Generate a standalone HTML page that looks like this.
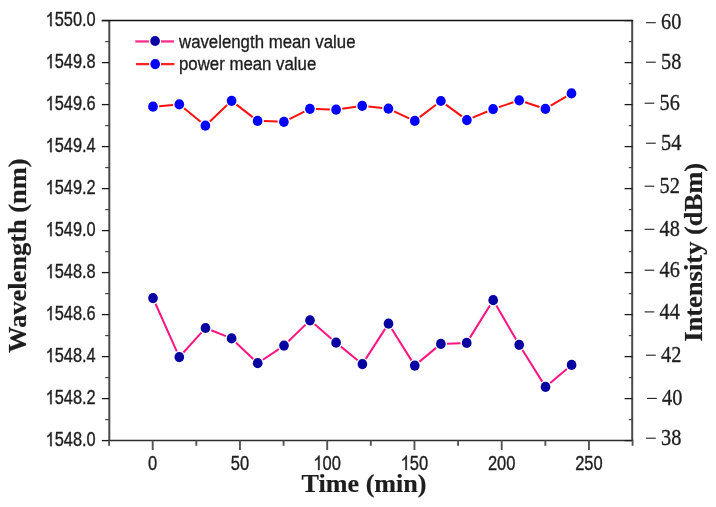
<!DOCTYPE html>
<html><head><meta charset="utf-8"><style>
html,body{margin:0;padding:0;background:#fff;width:716px;height:507px;overflow:hidden;}
svg{display:block;filter:blur(0.35px);}

</style></head><body>
<svg width="716" height="507" viewBox="0 0 716 507">
<rect width="716" height="507" fill="#fff"/>
<g stroke="#383838" fill="none">
<line x1="109.3" y1="20.6" x2="109.3" y2="440.5" stroke="#4a4a4a" stroke-width="2"/>
<line x1="632.1999999999999" y1="20.6" x2="632.1999999999999" y2="440.5" stroke="#4a4a4a" stroke-width="2"/>
<line x1="101.8" y1="20.5" x2="633.1999999999999" y2="20.5" stroke="#111" stroke-width="1.3"/>
<line x1="108.1" y1="440.5" x2="633.1999999999999" y2="440.5" stroke="#2e2e2e" stroke-width="1.6"/>
<line x1="101.8" y1="20.60" x2="109.1" y2="20.60" stroke="#1a1a1a" stroke-width="1.3"/>
<line x1="624.6" y1="20.60" x2="632.4" y2="20.60" stroke="#1a1a1a" stroke-width="1.3"/>
<line x1="101.8" y1="62.60" x2="109.1" y2="62.60" stroke="#1a1a1a" stroke-width="1.3"/>
<line x1="624.6" y1="62.60" x2="632.4" y2="62.60" stroke="#1a1a1a" stroke-width="1.3"/>
<line x1="101.8" y1="104.60" x2="109.1" y2="104.60" stroke="#1a1a1a" stroke-width="1.3"/>
<line x1="624.6" y1="104.60" x2="632.4" y2="104.60" stroke="#1a1a1a" stroke-width="1.3"/>
<line x1="101.8" y1="146.60" x2="109.1" y2="146.60" stroke="#1a1a1a" stroke-width="1.3"/>
<line x1="624.6" y1="146.60" x2="632.4" y2="146.60" stroke="#1a1a1a" stroke-width="1.3"/>
<line x1="101.8" y1="188.60" x2="109.1" y2="188.60" stroke="#1a1a1a" stroke-width="1.3"/>
<line x1="624.6" y1="188.60" x2="632.4" y2="188.60" stroke="#1a1a1a" stroke-width="1.3"/>
<line x1="101.8" y1="230.60" x2="109.1" y2="230.60" stroke="#1a1a1a" stroke-width="1.3"/>
<line x1="624.6" y1="230.60" x2="632.4" y2="230.60" stroke="#1a1a1a" stroke-width="1.3"/>
<line x1="101.8" y1="272.60" x2="109.1" y2="272.60" stroke="#1a1a1a" stroke-width="1.3"/>
<line x1="624.6" y1="272.60" x2="632.4" y2="272.60" stroke="#1a1a1a" stroke-width="1.3"/>
<line x1="101.8" y1="314.60" x2="109.1" y2="314.60" stroke="#1a1a1a" stroke-width="1.3"/>
<line x1="624.6" y1="314.60" x2="632.4" y2="314.60" stroke="#1a1a1a" stroke-width="1.3"/>
<line x1="101.8" y1="356.60" x2="109.1" y2="356.60" stroke="#1a1a1a" stroke-width="1.3"/>
<line x1="624.6" y1="356.60" x2="632.4" y2="356.60" stroke="#1a1a1a" stroke-width="1.3"/>
<line x1="101.8" y1="398.60" x2="109.1" y2="398.60" stroke="#1a1a1a" stroke-width="1.3"/>
<line x1="624.6" y1="398.60" x2="632.4" y2="398.60" stroke="#1a1a1a" stroke-width="1.3"/>
<line x1="101.8" y1="440.60" x2="109.1" y2="440.60" stroke="#1a1a1a" stroke-width="1.3"/>
<line x1="624.6" y1="440.60" x2="632.4" y2="440.60" stroke="#1a1a1a" stroke-width="1.3"/>
<line x1="105.2" y1="41.60" x2="109.1" y2="41.60" stroke="#444" stroke-width="1.2"/>
<line x1="628.8" y1="41.60" x2="632.4" y2="41.60" stroke="#444" stroke-width="1.2"/>
<line x1="105.2" y1="83.60" x2="109.1" y2="83.60" stroke="#444" stroke-width="1.2"/>
<line x1="628.8" y1="83.60" x2="632.4" y2="83.60" stroke="#444" stroke-width="1.2"/>
<line x1="105.2" y1="125.60" x2="109.1" y2="125.60" stroke="#444" stroke-width="1.2"/>
<line x1="628.8" y1="125.60" x2="632.4" y2="125.60" stroke="#444" stroke-width="1.2"/>
<line x1="105.2" y1="167.60" x2="109.1" y2="167.60" stroke="#444" stroke-width="1.2"/>
<line x1="628.8" y1="167.60" x2="632.4" y2="167.60" stroke="#444" stroke-width="1.2"/>
<line x1="105.2" y1="209.60" x2="109.1" y2="209.60" stroke="#444" stroke-width="1.2"/>
<line x1="628.8" y1="209.60" x2="632.4" y2="209.60" stroke="#444" stroke-width="1.2"/>
<line x1="105.2" y1="251.60" x2="109.1" y2="251.60" stroke="#444" stroke-width="1.2"/>
<line x1="628.8" y1="251.60" x2="632.4" y2="251.60" stroke="#444" stroke-width="1.2"/>
<line x1="105.2" y1="293.60" x2="109.1" y2="293.60" stroke="#444" stroke-width="1.2"/>
<line x1="628.8" y1="293.60" x2="632.4" y2="293.60" stroke="#444" stroke-width="1.2"/>
<line x1="105.2" y1="335.60" x2="109.1" y2="335.60" stroke="#444" stroke-width="1.2"/>
<line x1="628.8" y1="335.60" x2="632.4" y2="335.60" stroke="#444" stroke-width="1.2"/>
<line x1="105.2" y1="377.60" x2="109.1" y2="377.60" stroke="#444" stroke-width="1.2"/>
<line x1="628.8" y1="377.60" x2="632.4" y2="377.60" stroke="#444" stroke-width="1.2"/>
<line x1="105.2" y1="419.60" x2="109.1" y2="419.60" stroke="#444" stroke-width="1.2"/>
<line x1="628.8" y1="419.60" x2="632.4" y2="419.60" stroke="#444" stroke-width="1.2"/>
<line x1="109.07" y1="440.5" x2="109.07" y2="445.80" stroke="#555" stroke-width="1.9"/>
<line x1="152.70" y1="440.5" x2="152.70" y2="450.00" stroke="#555" stroke-width="1.9"/>
<line x1="196.32" y1="440.5" x2="196.32" y2="445.80" stroke="#555" stroke-width="1.9"/>
<line x1="239.95" y1="440.5" x2="239.95" y2="450.00" stroke="#555" stroke-width="1.9"/>
<line x1="283.57" y1="440.5" x2="283.57" y2="445.80" stroke="#555" stroke-width="1.9"/>
<line x1="327.20" y1="440.5" x2="327.20" y2="450.00" stroke="#555" stroke-width="1.9"/>
<line x1="370.82" y1="440.5" x2="370.82" y2="445.80" stroke="#555" stroke-width="1.9"/>
<line x1="414.45" y1="440.5" x2="414.45" y2="450.00" stroke="#555" stroke-width="1.9"/>
<line x1="458.07" y1="440.5" x2="458.07" y2="445.80" stroke="#555" stroke-width="1.9"/>
<line x1="501.70" y1="440.5" x2="501.70" y2="450.00" stroke="#555" stroke-width="1.9"/>
<line x1="545.33" y1="440.5" x2="545.33" y2="445.80" stroke="#555" stroke-width="1.9"/>
<line x1="588.95" y1="440.5" x2="588.95" y2="450.00" stroke="#555" stroke-width="1.9"/>
<line x1="632.58" y1="440.5" x2="632.58" y2="445.80" stroke="#555" stroke-width="1.9"/>
<line x1="646.10" y1="22.70" x2="655.80" y2="22.70" stroke="#1e1e1e" stroke-width="1.1"/>
<line x1="646.10" y1="62.20" x2="655.80" y2="62.20" stroke="#1e1e1e" stroke-width="1.1"/>
<line x1="644.60" y1="103.20" x2="654.30" y2="103.20" stroke="#1e1e1e" stroke-width="1.1"/>
<line x1="646.10" y1="143.20" x2="655.80" y2="143.20" stroke="#1e1e1e" stroke-width="1.1"/>
<line x1="644.60" y1="186.20" x2="654.30" y2="186.20" stroke="#1e1e1e" stroke-width="1.1"/>
<line x1="644.60" y1="229.30" x2="654.30" y2="229.30" stroke="#1e1e1e" stroke-width="1.1"/>
<line x1="644.60" y1="270.20" x2="654.30" y2="270.20" stroke="#1e1e1e" stroke-width="1.1"/>
<line x1="644.60" y1="311.90" x2="654.30" y2="311.90" stroke="#1e1e1e" stroke-width="1.1"/>
<line x1="646.10" y1="355.20" x2="655.80" y2="355.20" stroke="#1e1e1e" stroke-width="1.1"/>
<line x1="647.10" y1="398.40" x2="656.80" y2="398.40" stroke="#1e1e1e" stroke-width="1.1"/>
<line x1="646.10" y1="438.20" x2="655.80" y2="438.20" stroke="#1e1e1e" stroke-width="1.1"/>
</g>
<path d="M155.52 303.76L176.78 351.44M183.45 352.49L201.35 332.61M211.26 330.30L225.84 336.10M236.09 342.67L253.21 358.93M262.85 359.75L278.85 349.05M288.44 341.28L305.56 324.62M314.70 324.34L331.40 338.66M340.91 346.61L357.59 360.19M365.76 358.89L385.14 328.91M391.79 328.95L411.46 360.35M419.52 361.64L436.08 347.86M447.05 343.66L460.50 343.14M469.97 337.63L489.93 305.47M496.32 305.56L516.08 339.44M522.48 350.06L542.22 381.64M550.24 382.90L566.86 368.90" stroke="#ff1483" stroke-width="2.0" fill="none"/>
<path d="M159.18 106.16L173.12 104.94M184.10 108.32L200.60 121.78M209.89 121.43L227.11 105.07M236.51 104.59L252.69 117.11M263.80 121.11L277.70 121.59M289.45 119.03L304.35 111.57M316.10 109.01L329.90 109.49M342.24 108.81L356.06 106.79M368.36 106.56L382.24 108.04M394.03 111.30L409.17 118.30M419.73 117.14L435.97 104.76M445.90 104.67L461.90 116.43M472.62 117.70L487.38 111.50M498.98 107.12L513.32 102.28M525.09 102.23L539.51 106.97M550.73 105.73L566.17 96.57" stroke="#ff1010" stroke-width="2.0" fill="none"/>
<ellipse cx="153.0" cy="298.1" rx="4.85" ry="5.1" fill="#0800a0"/>
<ellipse cx="179.3" cy="357.1" rx="4.85" ry="5.1" fill="#0800a0"/>
<ellipse cx="205.5" cy="328.0" rx="4.85" ry="5.1" fill="#0800a0"/>
<ellipse cx="231.6" cy="338.4" rx="4.85" ry="5.1" fill="#0800a0"/>
<ellipse cx="257.7" cy="363.2" rx="4.85" ry="5.1" fill="#0800a0"/>
<ellipse cx="284.0" cy="345.6" rx="4.85" ry="5.1" fill="#0800a0"/>
<ellipse cx="310.0" cy="320.3" rx="4.85" ry="5.1" fill="#0800a0"/>
<ellipse cx="336.1" cy="342.7" rx="4.85" ry="5.1" fill="#0800a0"/>
<ellipse cx="362.4" cy="364.1" rx="4.85" ry="5.1" fill="#0800a0"/>
<ellipse cx="388.5" cy="323.7" rx="4.85" ry="5.1" fill="#0800a0"/>
<ellipse cx="414.75" cy="365.6" rx="4.85" ry="5.1" fill="#0800a0"/>
<ellipse cx="440.85" cy="343.9" rx="4.85" ry="5.1" fill="#0800a0"/>
<ellipse cx="466.7" cy="342.9" rx="4.85" ry="5.1" fill="#0800a0"/>
<ellipse cx="493.2" cy="300.2" rx="4.85" ry="5.1" fill="#0800a0"/>
<ellipse cx="519.2" cy="344.8" rx="4.85" ry="5.1" fill="#0800a0"/>
<ellipse cx="545.5" cy="386.9" rx="4.85" ry="5.1" fill="#0800a0"/>
<ellipse cx="571.6" cy="364.9" rx="4.85" ry="5.1" fill="#0800a0"/>
<ellipse cx="153.0" cy="106.7" rx="4.85" ry="5.1" fill="#0000ff"/>
<ellipse cx="179.3" cy="104.4" rx="4.85" ry="5.1" fill="#0000ff"/>
<ellipse cx="205.4" cy="125.7" rx="4.85" ry="5.1" fill="#0000ff"/>
<ellipse cx="231.6" cy="100.8" rx="4.85" ry="5.1" fill="#0000ff"/>
<ellipse cx="257.6" cy="120.9" rx="4.85" ry="5.1" fill="#0000ff"/>
<ellipse cx="283.9" cy="121.8" rx="4.85" ry="5.1" fill="#0000ff"/>
<ellipse cx="309.9" cy="108.8" rx="4.85" ry="5.1" fill="#0000ff"/>
<ellipse cx="336.1" cy="109.7" rx="4.85" ry="5.1" fill="#0000ff"/>
<ellipse cx="362.2" cy="105.9" rx="4.85" ry="5.1" fill="#0000ff"/>
<ellipse cx="388.4" cy="108.7" rx="4.85" ry="5.1" fill="#0000ff"/>
<ellipse cx="414.8" cy="120.9" rx="4.85" ry="5.1" fill="#0000ff"/>
<ellipse cx="440.9" cy="101.0" rx="4.85" ry="5.1" fill="#0000ff"/>
<ellipse cx="466.9" cy="120.1" rx="4.85" ry="5.1" fill="#0000ff"/>
<ellipse cx="493.1" cy="109.1" rx="4.85" ry="5.1" fill="#0000ff"/>
<ellipse cx="519.2" cy="100.3" rx="4.85" ry="5.1" fill="#0000ff"/>
<ellipse cx="545.4" cy="108.9" rx="4.85" ry="5.1" fill="#0000ff"/>
<ellipse cx="571.5" cy="93.4" rx="4.85" ry="5.1" fill="#0000ff"/>
<line x1="135.3" y1="41.45" x2="148.9" y2="41.45" stroke="#ff2d8c" stroke-width="2.3"/>
<line x1="161" y1="41.45" x2="174" y2="41.45" stroke="#ff2d8c" stroke-width="2.3"/>
<ellipse cx="155.1" cy="41.0" rx="4.85" ry="5.1" fill="#0800a0"/>
<line x1="136" y1="64.1" x2="149.2" y2="64.1" stroke="#ff2323" stroke-width="2.3"/>
<line x1="161" y1="64.1" x2="174.4" y2="64.1" stroke="#ff2323" stroke-width="2.3"/>
<ellipse cx="155.2" cy="64.1" rx="4.85" ry="5.1" fill="#0000ff"/>
<path transform="translate(45.54,26.15) scale(0.008008,-0.009529)" d="M763 0H583V1147Q518 1085 412.5 1023T223 930V1104Q375 1175 489 1276T650 1472H763Z" fill="#1e1e1e" stroke="#1e1e1e" stroke-width="37.5"/>
<text transform="translate(54.66,26.15) scale(1.0,1.19)" style="font-family:'Liberation Sans',sans-serif" font-size="16.4" font-weight="normal" text-anchor="start" fill="#1e1e1e" stroke="#1e1e1e" stroke-width="0.3">550.0</text>
<path transform="translate(45.54,68.15) scale(0.008008,-0.009529)" d="M763 0H583V1147Q518 1085 412.5 1023T223 930V1104Q375 1175 489 1276T650 1472H763Z" fill="#1e1e1e" stroke="#1e1e1e" stroke-width="37.5"/>
<text transform="translate(54.66,68.15) scale(1.0,1.19)" style="font-family:'Liberation Sans',sans-serif" font-size="16.4" font-weight="normal" text-anchor="start" fill="#1e1e1e" stroke="#1e1e1e" stroke-width="0.3">549.8</text>
<path transform="translate(45.54,110.15) scale(0.008008,-0.009529)" d="M763 0H583V1147Q518 1085 412.5 1023T223 930V1104Q375 1175 489 1276T650 1472H763Z" fill="#1e1e1e" stroke="#1e1e1e" stroke-width="37.5"/>
<text transform="translate(54.66,110.15) scale(1.0,1.19)" style="font-family:'Liberation Sans',sans-serif" font-size="16.4" font-weight="normal" text-anchor="start" fill="#1e1e1e" stroke="#1e1e1e" stroke-width="0.3">549.6</text>
<path transform="translate(45.54,152.15) scale(0.008008,-0.009529)" d="M763 0H583V1147Q518 1085 412.5 1023T223 930V1104Q375 1175 489 1276T650 1472H763Z" fill="#1e1e1e" stroke="#1e1e1e" stroke-width="37.5"/>
<text transform="translate(54.66,152.15) scale(1.0,1.19)" style="font-family:'Liberation Sans',sans-serif" font-size="16.4" font-weight="normal" text-anchor="start" fill="#1e1e1e" stroke="#1e1e1e" stroke-width="0.3">549.4</text>
<path transform="translate(45.54,194.15) scale(0.008008,-0.009529)" d="M763 0H583V1147Q518 1085 412.5 1023T223 930V1104Q375 1175 489 1276T650 1472H763Z" fill="#1e1e1e" stroke="#1e1e1e" stroke-width="37.5"/>
<text transform="translate(54.66,194.15) scale(1.0,1.19)" style="font-family:'Liberation Sans',sans-serif" font-size="16.4" font-weight="normal" text-anchor="start" fill="#1e1e1e" stroke="#1e1e1e" stroke-width="0.3">549.2</text>
<path transform="translate(45.54,236.15) scale(0.008008,-0.009529)" d="M763 0H583V1147Q518 1085 412.5 1023T223 930V1104Q375 1175 489 1276T650 1472H763Z" fill="#1e1e1e" stroke="#1e1e1e" stroke-width="37.5"/>
<text transform="translate(54.66,236.15) scale(1.0,1.19)" style="font-family:'Liberation Sans',sans-serif" font-size="16.4" font-weight="normal" text-anchor="start" fill="#1e1e1e" stroke="#1e1e1e" stroke-width="0.3">549.0</text>
<path transform="translate(45.54,278.15) scale(0.008008,-0.009529)" d="M763 0H583V1147Q518 1085 412.5 1023T223 930V1104Q375 1175 489 1276T650 1472H763Z" fill="#1e1e1e" stroke="#1e1e1e" stroke-width="37.5"/>
<text transform="translate(54.66,278.15) scale(1.0,1.19)" style="font-family:'Liberation Sans',sans-serif" font-size="16.4" font-weight="normal" text-anchor="start" fill="#1e1e1e" stroke="#1e1e1e" stroke-width="0.3">548.8</text>
<path transform="translate(45.54,320.15) scale(0.008008,-0.009529)" d="M763 0H583V1147Q518 1085 412.5 1023T223 930V1104Q375 1175 489 1276T650 1472H763Z" fill="#1e1e1e" stroke="#1e1e1e" stroke-width="37.5"/>
<text transform="translate(54.66,320.15) scale(1.0,1.19)" style="font-family:'Liberation Sans',sans-serif" font-size="16.4" font-weight="normal" text-anchor="start" fill="#1e1e1e" stroke="#1e1e1e" stroke-width="0.3">548.6</text>
<path transform="translate(45.54,362.15) scale(0.008008,-0.009529)" d="M763 0H583V1147Q518 1085 412.5 1023T223 930V1104Q375 1175 489 1276T650 1472H763Z" fill="#1e1e1e" stroke="#1e1e1e" stroke-width="37.5"/>
<text transform="translate(54.66,362.15) scale(1.0,1.19)" style="font-family:'Liberation Sans',sans-serif" font-size="16.4" font-weight="normal" text-anchor="start" fill="#1e1e1e" stroke="#1e1e1e" stroke-width="0.3">548.4</text>
<path transform="translate(45.54,404.15) scale(0.008008,-0.009529)" d="M763 0H583V1147Q518 1085 412.5 1023T223 930V1104Q375 1175 489 1276T650 1472H763Z" fill="#1e1e1e" stroke="#1e1e1e" stroke-width="37.5"/>
<text transform="translate(54.66,404.15) scale(1.0,1.19)" style="font-family:'Liberation Sans',sans-serif" font-size="16.4" font-weight="normal" text-anchor="start" fill="#1e1e1e" stroke="#1e1e1e" stroke-width="0.3">548.2</text>
<path transform="translate(45.54,446.15) scale(0.008008,-0.009529)" d="M763 0H583V1147Q518 1085 412.5 1023T223 930V1104Q375 1175 489 1276T650 1472H763Z" fill="#1e1e1e" stroke="#1e1e1e" stroke-width="37.5"/>
<text transform="translate(54.66,446.15) scale(1.0,1.19)" style="font-family:'Liberation Sans',sans-serif" font-size="16.4" font-weight="normal" text-anchor="start" fill="#1e1e1e" stroke="#1e1e1e" stroke-width="0.3">548.0</text>
<text transform="translate(148.11,470.00) scale(1.0,1.22)" style="font-family:'Liberation Sans',sans-serif" font-size="16.5" font-weight="normal" text-anchor="start" fill="#1e1e1e" stroke="#1e1e1e" stroke-width="0.3">0</text>
<text transform="translate(230.77,470.00) scale(1.0,1.22)" style="font-family:'Liberation Sans',sans-serif" font-size="16.5" font-weight="normal" text-anchor="start" fill="#1e1e1e" stroke="#1e1e1e" stroke-width="0.3">50</text>
<path transform="translate(313.44,470.00) scale(0.008057,-0.009829)" d="M763 0H583V1147Q518 1085 412.5 1023T223 930V1104Q375 1175 489 1276T650 1472H763Z" fill="#1e1e1e" stroke="#1e1e1e" stroke-width="37.2"/>
<text transform="translate(322.61,470.00) scale(1.0,1.22)" style="font-family:'Liberation Sans',sans-serif" font-size="16.5" font-weight="normal" text-anchor="start" fill="#1e1e1e" stroke="#1e1e1e" stroke-width="0.3">00</text>
<path transform="translate(400.69,470.00) scale(0.008057,-0.009829)" d="M763 0H583V1147Q518 1085 412.5 1023T223 930V1104Q375 1175 489 1276T650 1472H763Z" fill="#1e1e1e" stroke="#1e1e1e" stroke-width="37.2"/>
<text transform="translate(409.86,470.00) scale(1.0,1.22)" style="font-family:'Liberation Sans',sans-serif" font-size="16.5" font-weight="normal" text-anchor="start" fill="#1e1e1e" stroke="#1e1e1e" stroke-width="0.3">50</text>
<text transform="translate(487.94,470.00) scale(1.0,1.22)" style="font-family:'Liberation Sans',sans-serif" font-size="16.5" font-weight="normal" text-anchor="start" fill="#1e1e1e" stroke="#1e1e1e" stroke-width="0.3">200</text>
<text transform="translate(575.19,470.00) scale(1.0,1.22)" style="font-family:'Liberation Sans',sans-serif" font-size="16.5" font-weight="normal" text-anchor="start" fill="#1e1e1e" stroke="#1e1e1e" stroke-width="0.3">250</text>
<text transform="translate(661.05,29.35) scale(1.0,1.107)" style="font-family:'Liberation Serif',serif" font-size="20.3" font-weight="normal" text-anchor="start" fill="#1e1e1e" stroke="#1e1e1e" stroke-width="0.3">60</text>
<text transform="translate(661.05,68.85) scale(1.0,1.107)" style="font-family:'Liberation Serif',serif" font-size="20.3" font-weight="normal" text-anchor="start" fill="#1e1e1e" stroke="#1e1e1e" stroke-width="0.3">58</text>
<text transform="translate(659.55,109.85) scale(1.0,1.107)" style="font-family:'Liberation Serif',serif" font-size="20.3" font-weight="normal" text-anchor="start" fill="#1e1e1e" stroke="#1e1e1e" stroke-width="0.3">56</text>
<text transform="translate(661.05,149.85) scale(1.0,1.107)" style="font-family:'Liberation Serif',serif" font-size="20.3" font-weight="normal" text-anchor="start" fill="#1e1e1e" stroke="#1e1e1e" stroke-width="0.3">54</text>
<text transform="translate(659.55,192.85) scale(1.0,1.107)" style="font-family:'Liberation Serif',serif" font-size="20.3" font-weight="normal" text-anchor="start" fill="#1e1e1e" stroke="#1e1e1e" stroke-width="0.3">52</text>
<text transform="translate(659.55,235.95) scale(1.0,1.107)" style="font-family:'Liberation Serif',serif" font-size="20.3" font-weight="normal" text-anchor="start" fill="#1e1e1e" stroke="#1e1e1e" stroke-width="0.3">48</text>
<text transform="translate(659.55,276.85) scale(1.0,1.107)" style="font-family:'Liberation Serif',serif" font-size="20.3" font-weight="normal" text-anchor="start" fill="#1e1e1e" stroke="#1e1e1e" stroke-width="0.3">46</text>
<text transform="translate(659.55,318.55) scale(1.0,1.107)" style="font-family:'Liberation Serif',serif" font-size="20.3" font-weight="normal" text-anchor="start" fill="#1e1e1e" stroke="#1e1e1e" stroke-width="0.3">44</text>
<text transform="translate(661.05,361.85) scale(1.0,1.107)" style="font-family:'Liberation Serif',serif" font-size="20.3" font-weight="normal" text-anchor="start" fill="#1e1e1e" stroke="#1e1e1e" stroke-width="0.3">42</text>
<text transform="translate(662.05,405.05) scale(1.0,1.107)" style="font-family:'Liberation Serif',serif" font-size="20.3" font-weight="normal" text-anchor="start" fill="#1e1e1e" stroke="#1e1e1e" stroke-width="0.3">40</text>
<text transform="translate(661.05,444.85) scale(1.0,1.107)" style="font-family:'Liberation Serif',serif" font-size="20.3" font-weight="normal" text-anchor="start" fill="#1e1e1e" stroke="#1e1e1e" stroke-width="0.3">38</text>
<text transform="translate(179.00,47.75) scale(1.0,1.075)" style="font-family:'Liberation Sans',sans-serif" font-size="16.8" font-weight="normal" text-anchor="start" fill="#1e1e1e" stroke="#1e1e1e" stroke-width="0.3">wavelength mean value</text>
<text transform="translate(179.00,69.80) scale(1.0,1.075)" style="font-family:'Liberation Sans',sans-serif" font-size="16.8" font-weight="normal" text-anchor="start" fill="#1e1e1e" stroke="#1e1e1e" stroke-width="0.3">power mean value</text>
<text transform="translate(26.10,352.80) rotate(-90) scale(1.028,1.0)" style="font-family:'Liberation Serif',serif" font-size="25.7" font-weight="bold" text-anchor="start" fill="#1e1e1e" stroke="#1e1e1e" stroke-width="0.2">Wavelength (nm)</text>
<text transform="translate(701.60,341.80) rotate(-90) scale(1.061,1.0)" style="font-family:'Liberation Serif',serif" font-size="25" font-weight="bold" text-anchor="start" fill="#1e1e1e" stroke="#1e1e1e" stroke-width="0.2">Intensity (dBm)</text>
<text transform="translate(301.60,491.90) scale(1.045,1.0)" style="font-family:'Liberation Serif',serif" font-size="25" font-weight="bold" text-anchor="start" fill="#1e1e1e" stroke="#1e1e1e" stroke-width="0.2">Time (min)</text>
</svg>
</body></html>
